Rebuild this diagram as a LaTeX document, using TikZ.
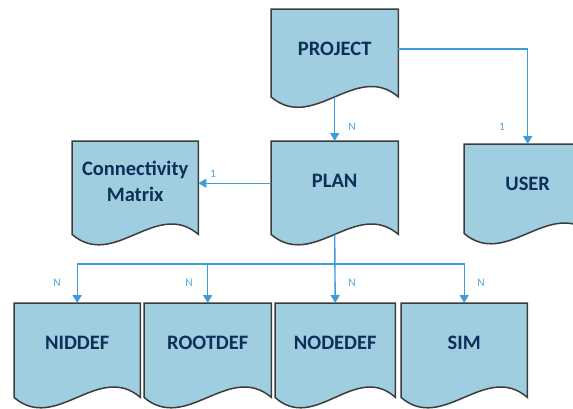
\documentclass[tikz,border=0pt]{standalone}
\usepackage{fontspec}
\setmainfont{Carlito}
\usetikzlibrary{arrows.meta,calc}
\definecolor{boxfill}{RGB}{158,206,223}
\definecolor{boxline}{RGB}{60,60,60}
\definecolor{txtcol}{RGB}{12,48,90}
\definecolor{conncol}{RGB}{62,156,218}
\definecolor{lblcol}{RGB}{84,168,224}
\tikzset{
  docnode/.style={draw=none, fill=none, inner sep=0pt, anchor=north west},
  docline/.style={draw=boxline, fill=boxfill, line width=1.5pt, line join=miter},
  doctext/.style={font=\fontsize{20.5}{26}\selectfont\bfseries, text=txtcol, align=center},
  conn/.style={draw=conncol, line width=1.4pt, -{Triangle[width=9pt,length=8pt]}},
  lbl/.style={font=\fontsize{11.5}{13}\selectfont, text=lblcol}
}
% #1 name, #2 width, #3 height (straight side), #4 text
\newcommand\mydoc[4]{%
  \draw[docline] (#1.south west) -- (#1.north west) -- (#1.north east) -- (#1.south east)
     .. controls +(-#2/3,-36) and +(#2/3,36) .. (#1.south west) -- cycle;
  \node[doctext] (#1-t) at ($(#1.north)+(0,40)$) {#4};
}
\begin{document}
\begin{tikzpicture}[x=1pt,y=-1pt]
\useasboundingbox (0,0) rectangle (573,408);
\clip (0,0) rectangle (573,408);
% box frames
\node[docnode, minimum width=127pt, minimum height=87.5pt] (project) at (271,9) {};
\node[docnode, minimum width=126pt, minimum height=93pt] (conn) at (72,141) {};
\node[docnode, minimum width=127pt, minimum height=93pt] (plan) at (271,141) {};
\node[docnode, minimum width=127pt, minimum height=89pt] (user) at (464,144) {};
\node[docnode, minimum width=126pt, minimum height=94pt] (niddef) at (14,303) {};
\node[docnode, minimum width=127pt, minimum height=94pt] (rootdef) at (144,303) {};
\node[docnode, minimum width=120pt, minimum height=94pt] (nodedef) at (275,303) {};
\node[docnode, minimum width=126pt, minimum height=94pt] (sim) at (401,303) {};
\mydoc{project}{127}{87.5}{PROJECT}
\mydoc{conn}{126}{93}{Connectivity\\Matrix}
\mydoc{plan}{127}{93}{PLAN}
\mydoc{user}{127}{89}{USER}
\mydoc{niddef}{126}{94}{NIDDEF}
\mydoc{rootdef}{127}{94}{ROOTDEF}
\mydoc{nodedef}{120}{94}{NODEDEF}
\mydoc{sim}{126}{94}{SIM}
% connectors
\draw[conn] (project.south) -- (plan.north);
\draw[conn] ([yshift=4pt]project.east) -| (user.north);
\draw[conn] ([yshift=4.5pt]plan.west) -- ([yshift=4.5pt]conn.east);
\coordinate (bus) at (plan.south |- 0,264);
\draw[conn] (plan.south) -- (nodedef.north);
\draw[conn] (bus) -| (niddef.north);
\draw[conn] (bus) -| (rootdef.north);
\draw[conn] (bus) -| (sim.north);
% labels
\node[lbl] (l1) at (352,127) {N};
\node[lbl] (l2) at (213,174) {1};
\node[lbl] (l3) at (502,127) {1};
\node[lbl] (l4) at (57,283) {N};
\node[lbl] (l5) at (189,283) {N};
\node[lbl] (l6) at (352,283) {N};
\node[lbl] (l7) at (481,283) {N};
\end{tikzpicture}
\end{document}
